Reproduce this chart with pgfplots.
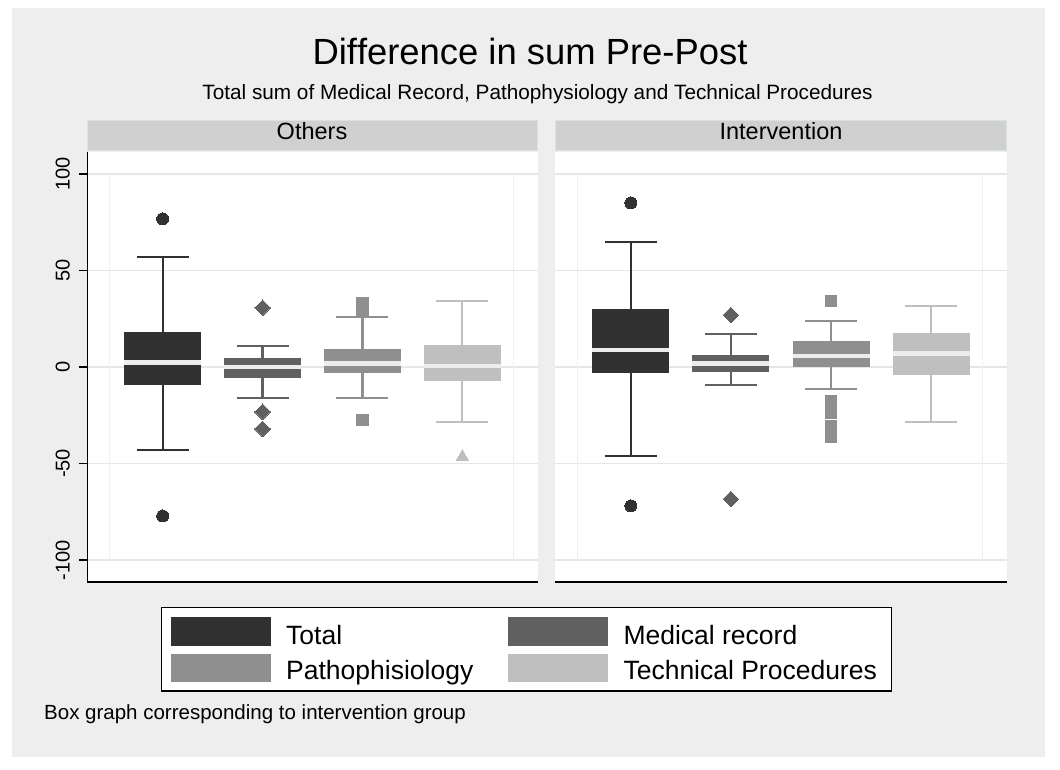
\documentclass[border=0pt]{standalone}
\usepackage{pgfplots}
\pgfplotsset{compat=1.18}
\usepgfplotslibrary{statistics}
\usepackage{fontspec}
\setmainfont{Liberation Sans}[Ligatures=NoCommon]

\definecolor{bg}{HTML}{EEEEEE}
\definecolor{hdr}{HTML}{D0D0D0}
\definecolor{hdrline}{HTML}{DAE1E5}
\definecolor{grd}{HTML}{E6E6E6}
\definecolor{vgrd}{HTML}{EFEFEF}
\definecolor{ctot}{HTML}{313131}
\definecolor{cmr}{HTML}{606060}
\definecolor{cpp}{HTML}{8F8F8F}
\definecolor{ctp}{HTML}{BFBFBF}
\definecolor{cmed}{HTML}{ECECEC}

\pgfplotsset{
  panel/.style={
    scale only axis, height=430pt,
    xmin=0.243, xmax=4.757, ymin=-111.4, ymax=111.4,
    xtick=\empty, ytick={-100,-50,0,50,100},
    ymajorgrids, major grid style={grd, line width=1.5pt},
    axis line style={draw=none},
    axis background/.style={fill=white},
    ytick pos=left, tick align=outside, major tick length=8pt,
    major tick style={black, line width=1.2pt},
    yticklabel style={rotate=90, anchor=south, inner sep=0pt, font=\fontsize{20}{24}\selectfont},
    yticklabel shift=9pt,
    /pgf/number format/assume math mode=true,
    boxplot/draw direction=y,
    boxplot/box extend=0.77, boxplot/whisker extend=0.52,
    boxplot/every median/.style={draw=cmed, line width=4.5pt},
  },
  bp/.style n args={3}{draw=#1, line width=2.2pt, solid, mark=#2, mark size=#3,
    mark options={solid, fill=#1, draw=#1, line width=0pt},
    boxplot/every box/.style={fill=#1, draw=none}},
}

\begin{document}
\begin{tikzpicture}
\begin{scope}[x=1pt, y=1pt]
\useasboundingbox (0,0) rectangle (1060,-770);
\fill[white] (0,0) rectangle (1060,-770);
\fill[bg] (12,-8) rectangle (1045,-757);

% titles
\node[anchor=base, font=\fontsize{36.4}{42}\selectfont] at (530,-65) {Dif\kern0ptference in sum Pre-Post};
\node[anchor=base, font=\fontsize{20.75}{24}\selectfont] at (537.5,-100) {Total sum of Medical Record, Pathophysiology and Technical Procedures};

% panel headers
\filldraw[fill=hdr, draw=hdrline, line width=1pt] (87,-120.5) rectangle (537.5,-151);
\filldraw[fill=hdr, draw=hdrline, line width=1pt] (555.5,-120.5) rectangle (1006.5,-151);
\node[anchor=base, font=\fontsize{23.5}{28}\selectfont] at (312,-139.5) {Others};
\node[anchor=base, font=\fontsize{23.5}{28}\selectfont] at (781,-139.5) {Intervention};
\end{scope}

% Others
\begin{axis}[panel, width=451pt, at={(87pt,-582pt)}, anchor=south west]
\addplot[bp={ctot}{*}{6pt}, boxplot prepared={draw position=1,
  lower whisker=-42.8, lower quartile=-9.2, median=2.4, upper quartile=18.0, upper whisker=57.0}]
  table[row sep=\\, y index=0] {y\\ 76.8\\ -77.2\\};
\addplot[bp={cmr}{square*}{5.5pt}, every mark/.append style={rotate=45}, boxplot prepared={draw position=2,
  lower whisker=-15.9, lower quartile=-5.5, median=0.0, upper quartile=4.5, upper whisker=10.9}]
  table[row sep=\\, y index=0] {y\\ 30.7\\ -23.2\\ -32.1\\};
\addplot[bp={cpp}{square*}{5.9pt}, boxplot prepared={draw position=3,
  lower whisker=-15.9, lower quartile=-2.9, median=1.7, upper quartile=9.2, upper whisker=26.1}]
  table[row sep=\\, y index=0] {y\\ 30\\ 31.5\\ 33\\ -27.5\\};
\addplot[bp={ctp}{triangle*}{7.2pt}, boxplot prepared={draw position=4,
  lower whisker=-28.5, lower quartile=-7.1, median=0.5, upper quartile=11.4, upper whisker=34.2}]
  table[row sep=\\, y index=0] {y\\ -46.5\\};
\draw[vgrd, line width=1pt] (axis cs:0.47,-100) -- (axis cs:0.47,100);
\draw[vgrd, line width=1pt] (axis cs:4.51,-100) -- (axis cs:4.51,100);
\draw[black, line width=1.3pt] (rel axis cs:0,1) -- (rel axis cs:0,0) -- (rel axis cs:1,0);
\end{axis}

% Intervention
\begin{axis}[panel, width=452pt, at={(555pt,-582pt)}, anchor=south west, yticklabels={}, major tick length=0pt]
\addplot[bp={ctot}{*}{6pt}, boxplot prepared={draw position=1,
  lower whisker=-46.0, lower quartile=-2.9, median=8.8, upper quartile=29.9, upper whisker=64.9}]
  table[row sep=\\, y index=0] {y\\ 85.0\\ -72.0\\};
\addplot[bp={cmr}{square*}{5.5pt}, every mark/.append style={rotate=45}, boxplot prepared={draw position=2,
  lower whisker=-9.3, lower quartile=-2.4, median=1.7, upper quartile=6.0, upper whisker=17.3}]
  table[row sep=\\, y index=0] {y\\ 26.9\\ -68.4\\};
\addplot[bp={cpp}{square*}{5.9pt}, boxplot prepared={draw position=3,
  lower whisker=-11.4, lower quartile=0.2, median=5.7, upper quartile=13.5, upper whisker=23.8}]
  table[row sep=\\, y index=0] {y\\ 34.2\\ -18\\ -20.5\\ -23.5\\ -30.8\\ -33.5\\ -36\\};
\addplot[bp={ctp}{triangle*}{7.2pt}, boxplot prepared={draw position=4,
  lower whisker=-28.3, lower quartile=-4.0, median=6.9, upper quartile=17.6, upper whisker=31.8}]
  coordinates {};
\draw[vgrd, line width=1pt] (axis cs:0.47,-100) -- (axis cs:0.47,100);
\draw[vgrd, line width=1pt] (axis cs:4.51,-100) -- (axis cs:4.51,100);
\draw[black, line width=1.3pt] (rel axis cs:0,0) -- (rel axis cs:1,0);
\end{axis}

\begin{scope}[x=1pt, y=1pt]
% legend
\filldraw[fill=white, draw=black, line width=1.3pt] (161.5,-607.5) rectangle (891.5,-691);
\fill[ctot] (171,-617) rectangle (270.5,-646);
\fill[cmr] (508,-617) rectangle (607.5,-646);
\fill[cpp] (171,-653.5) rectangle (270.5,-682);
\fill[ctp] (508,-653.5) rectangle (607.5,-682);
\begin{scope}[every node/.style={anchor=base west, inner sep=0pt, font=\fontsize{26.5}{30}\selectfont}]
\node at (286,-644) {Total};
\node at (623.3,-644) {Medical record};
\node at (286,-679) {Pathophisiology};
\node at (623.3,-679) {Technical Procedures};
\end{scope}

\node[anchor=base west, inner sep=0pt, font=\fontsize{20.5}{24}\selectfont] at (44,-719.3) {Box graph corresponding to intervention group};
\end{scope}
\end{tikzpicture}
\end{document}
